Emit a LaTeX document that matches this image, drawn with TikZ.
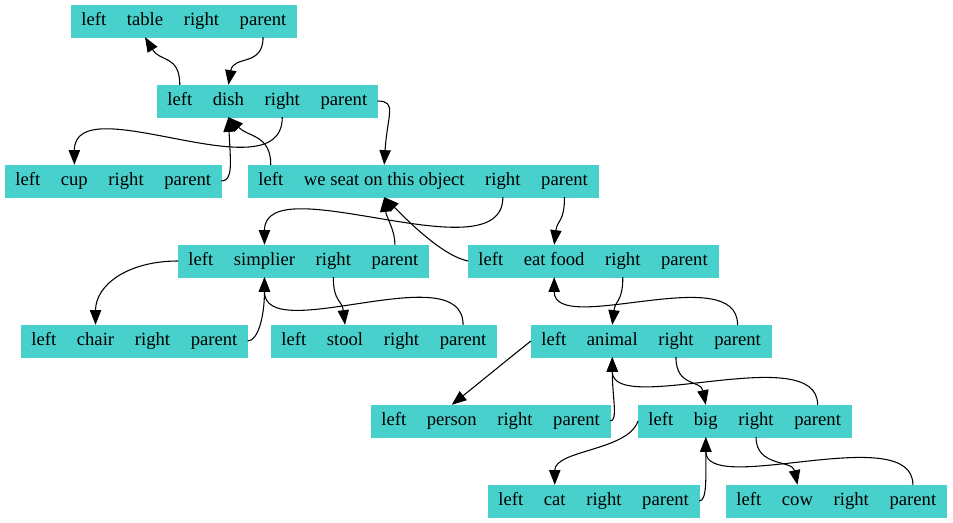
\documentclass[tikz,border=0pt]{standalone}
\usepackage{fontspec}
\setmainfont{Liberation Serif}
\definecolor{turq}{RGB}{72,209,204}
\usepackage{tikz}
\usetikzlibrary{positioning, arrows.meta}
\tikzset{
  field/.style={fill=turq, draw=turq, line width=0.3pt, inner xsep=7.6pt, inner ysep=0pt,
    minimum height=24pt, text height=9.5pt, text depth=3pt,
    font=\fontsize{14}{16}\selectfont},
  ptr/.style={draw=black, line width=0.8pt, -{Triangle[length=11pt, width=8.5pt]}},
}
% one record: name, x, y, label
\newcommand{\datarecord}[4]{%
  \node[field, anchor=west] (#1-l) at (#2,-#3) {left};
  \node[field, right=0pt of #1-l] (#1-d) {#4};
  \node[field, right=0pt of #1-d] (#1-r) {right};
  \node[field, right=0pt of #1-r] (#1-p) {parent};
}

\begin{document}
\begin{tikzpicture}[x=0.75pt, y=0.75pt]
  \useasboundingbox (0,0) rectangle (953,-523);

  \datarecord{table}{71}{21}{table}
  \datarecord{dish}{157}{101}{dish}
  \datarecord{cup}{5}{181}{cup}
  \datarecord{seat}{248}{181}{we seat on this object}
  \datarecord{simp}{178}{261}{simplier}
  \datarecord{eat}{468}{261}{eat food}
  \datarecord{chair}{21}{341}{chair}
  \datarecord{stool}{271}{341}{stool}
  \datarecord{animal}{531}{341}{animal}
  \datarecord{person}{371}{421}{person}
  \datarecord{big}{638}{421}{big}
  \datarecord{cat}{488}{501}{cat}
  \datarecord{cow}{726}{501}{cow}

  \draw[ptr] (dish-l.north) .. controls +(0,30) and +(15,-25) .. (table-d.south);
  \draw[ptr] (table-p.south) .. controls +(0,-30) and +(5,30) .. (dish-d.north);
  \draw[ptr] (dish-r.south) .. controls +(0,-80) and +(0,80) .. (cup-d.north);
  \draw[ptr] (cup-p.east) .. controls +(12,0) and +(2,-45) .. (dish-d.south);
  \draw[ptr] (seat-l.north) .. controls +(0,30) and +(20,-20) .. (dish-d.south);
  \draw[ptr] (dish-p.east) .. controls +(20,0) and +(3,50) .. (seat-d.north);

  \draw[ptr] (seat-r.south) .. controls +(0,-80) and +(0,80) .. (simp-d.north);
  \draw[ptr] (simp-p.north) .. controls +(0,15) and +(2,-20) .. (seat-d.south);
  \draw[ptr] (eat-l.west) .. controls +(-25,5) and +(25,-25) .. (seat-d.south);
  \draw[ptr] (seat-p.south) .. controls +(0,-25) and +(3,25) .. (eat-d.north);

  \draw[ptr] (simp-l.west) .. controls +(-50,0) and +(0,40) .. (chair-d.north);
  \draw[ptr] (chair-p.east) .. controls +(10,0) and +(0,-40) .. (simp-d.south);
  \draw[ptr] (simp-r.south) .. controls +(0,-25) and +(-3,25) .. (stool-d.north);
  \draw[ptr] (stool-p.north) .. controls +(0,70) and +(0,-70) .. (simp-d.south);

  \draw[ptr] (eat-r.south) .. controls +(0,-25) and +(3,25) .. (animal-d.north);
  \draw[ptr] (animal-p.north) .. controls +(0,65) and +(0,-60) .. (eat-d.south);
  \draw[ptr] (animal-l.west) .. controls +(-8,-6) and +(25,20) .. (person-d.north);
  \draw[ptr] (person-p.east) .. controls +(8,0) and +(0,-40) .. (animal-d.south);
  \draw[ptr] (animal-r.south) .. controls +(0,-30) and +(-5,25) .. (big-d.north);
  \draw[ptr] (big-p.north) .. controls +(0,65) and +(0,-60) .. (animal-d.south);

  \draw[ptr] (big-l.west) .. controls +(-10,-30) and +(0,35) .. (cat-d.north);
  \draw[ptr] (cat-p.east) .. controls +(8,0) and +(0,-40) .. (big-d.south);
  \draw[ptr] (big-r.south) .. controls +(0,-30) and +(-5,25) .. (cow-d.north);
  \draw[ptr] (cow-p.north) .. controls +(0,65) and +(0,-60) .. (big-d.south);
\end{tikzpicture}
\end{document}
